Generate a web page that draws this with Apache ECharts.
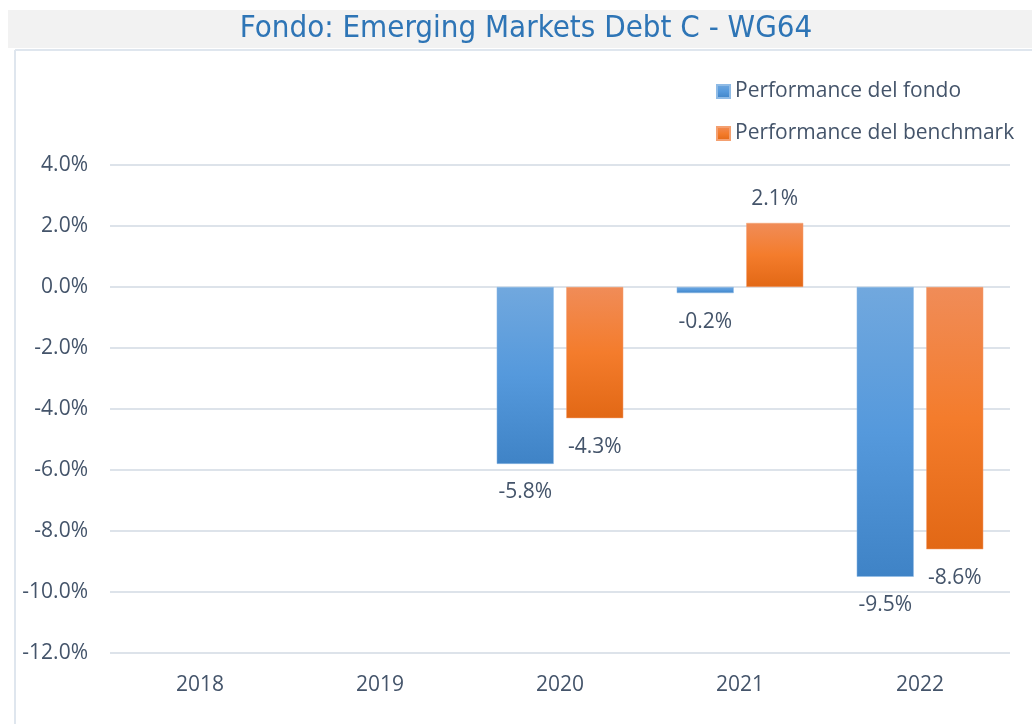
<!DOCTYPE html>
<html><head><meta charset="utf-8">
<script src="https://cdn.jsdelivr.net/npm/echarts@6/dist/echarts.min.js"></script>
<style>html,body{margin:0;padding:0;background:#fff}#c{width:1032px;height:724px}</style>
</head><body><div id="c"></div>
<script>
const categories = ['2018','2019','2020','2021','2022'];
const fondo = [null, null, -5.8, -0.2, -9.5];
const benchmark = [null, null, -4.3, 2.1, -8.6];
const yTicks = {min: -12, max: 4, interval: 2};
const seriesNames = ['Performance del fondo', 'Performance del benchmark'];
const titleText = 'Fondo: Emerging Markets Debt C - WG64';

const txt = '#44546a';
const ff = 'Open Sans, sans-serif';
function mk(vals){
  return vals.map(v => v == null ? null : {value: v, label: {position: v < 0 ? 'bottom' : 'top', distance: v < 0 ? 18 : 13}});
}
const blueGrad = new echarts.graphic.LinearGradient(0,0,0,1,[{offset:0,color:'#71a8de'},{offset:0.5,color:'#5599dc'},{offset:1,color:'#3f83c6'}]);
const orangeGrad = new echarts.graphic.LinearGradient(0,0,0,1,[{offset:0,color:'#f08c58'},{offset:0.5,color:'#f47c2c'},{offset:1,color:'#e26815'}]);
const chart = echarts.init(document.getElementById('c'));
chart.setOption({
  animation: false,
  graphic: [
    {type:'rect', shape:{x:8,y:10,width:1024,height:38}, style:{fill:'#f2f2f2'}, z:-1},
    {type:'line', shape:{x1:15,y1:50,x2:1032,y2:50}, style:{stroke:'#dfe6ee',lineWidth:2}},
    {type:'line', shape:{x1:15,y1:50,x2:15,y2:724}, style:{stroke:'#dfe6ee',lineWidth:2}},
    {type:'text', x:526, y:29, style:{text:titleText, fill:'#2e75b6', font:'31px "Liberation Sans Narrow", "DejaVu Sans Condensed", sans-serif', align:'center', verticalAlign:'middle'}}
  ],
  legend: {
    orient: 'vertical', left: 711, top: 76, itemGap: 21,
    itemWidth: 13, itemHeight: 13, icon: 'rect',
    textStyle: {color: txt, fontSize: 21, fontFamily: ff},
    data: seriesNames
  },
  grid: {left: 110, right: 22, top: 165, bottom: 71},
  xAxis: {
    type: 'category', data: categories,
    axisLine: {show: false}, axisTick: {show: false},
    axisLabel: {color: txt, fontSize: 21, margin: 22, fontFamily: ff}
  },
  yAxis: {
    type: 'value', min: yTicks.min, max: yTicks.max, interval: yTicks.interval,
    axisLabel: {color: txt, fontSize: 21, margin: 22, fontFamily: ff, formatter: v => v.toFixed(1) + '%'},
    splitLine: {lineStyle: {color: '#dde3ea', width: 2}},
    axisLine: {show: false}, axisTick: {show: false}
  },
  series: [
    {name: seriesNames[0], type: 'bar', data: mk(fondo), barWidth: 57, barGap: '22%',
     itemStyle: {color: blueGrad, borderColor: '#8fbbe6', borderWidth: 0.5},
     label: {show: true, color: txt, fontSize: 21, fontFamily: ff, formatter: p => p.value.toFixed(1) + '%'}},
    {name: seriesNames[1], type: 'bar', data: mk(benchmark), barWidth: 57,
     itemStyle: {color: orangeGrad, borderColor: '#f4a070', borderWidth: 0.5},
     label: {show: true, color: txt, fontSize: 21, fontFamily: ff, formatter: p => p.value.toFixed(1) + '%'}}
  ]
});
</script></body></html>
